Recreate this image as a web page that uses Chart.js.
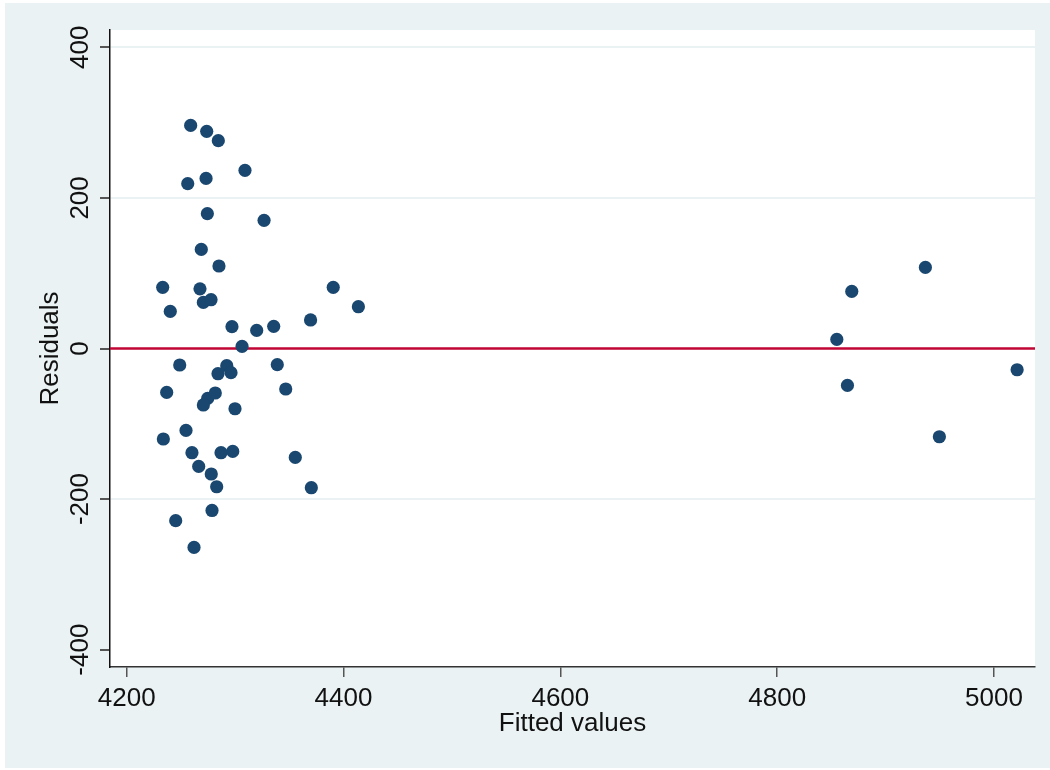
<!DOCTYPE html>
<html>
<head>
<meta charset="utf-8">
<script src="https://cdn.jsdelivr.net/npm/chart.js@4.4.1/dist/chart.umd.min.js"></script>
<style>
  body { margin: 0; background: #fff; }
</style>
</head>
<body>
<canvas id="residChart" width="1050" height="770"></canvas>
<script>
// fitted values (x) and residuals (y)
var fitted = [
    4259.0, 4273.8, 4284.5, 4256.3, 4273.2, 4309.1, 4274.4, 4326.7, 4268.8, 4285.1,
    4233.2, 4267.6, 4270.7, 4277.8, 4240.2, 4390.5, 4413.7, 4369.6, 4297.1, 4319.9,
    4335.6, 4306.4, 4248.9, 4292.3, 4296.2, 4338.9, 4236.9, 4284.2, 4274.7, 4270.7,
    4281.7, 4299.9, 4346.7, 4233.8, 4254.7, 4260.2, 4287.0, 4297.8, 4266.4, 4278.0,
    4283.0, 4355.5, 4370.3, 4278.7, 4245.2, 4262.1, 4855.0, 4868.8, 4936.7, 4864.8,
    4949.6, 5021.3
];
var residuals = [
    296.3, 288.4, 276.0, 218.9, 225.9, 236.6, 179.1, 170.2, 131.6, 109.6,
    81.2, 79.2, 61.2, 64.8, 49.3, 81.2, 55.5, 37.9, 29.0, 24.0,
    29.4, 2.8, -21.9, -22.8, -32.1, -21.5, -58.3, -33.5, -66.3, -75.0,
    -59.1, -80.0, -53.8, -120.2, -108.8, -138.4, -138.4, -136.7, -156.6, -166.7,
    -183.6, -144.7, -184.9, -215.1, -228.7, -264.2, 12.1, 75.8, 107.7, -49.0,
    -117.2, -28.2
];
var xTickValues = [4200, 4400, 4600, 4800, 5000];
var yTickValues = [-400, -200, 0, 200, 400];
var yGridValues = [-200, 200, 400];
var xRange = [4184.6, 5037.8];
var yRange = [-423, 423];
var refLine = 0;

var fontFamily = '"Liberation Sans", Arial, sans-serif';

var points = fitted.map(function (f, i) {
    return { x: f, y: residuals[i] };
});

// stata-like backgrounds: light outer region, white plot region
var backgroundPlugin = {
    id: 'stataBackground',
    beforeDraw: function (chart) {
        var ctx = chart.ctx;
        var a = chart.chartArea;
        ctx.save();
        ctx.fillStyle = '#ffffff';
        ctx.fillRect(0, 0, chart.width, chart.height);
        ctx.fillStyle = '#EAF2F3';
        ctx.fillRect(5, 3, chart.width - 5, chart.height - 5);
        ctx.fillStyle = '#ffffff';
        ctx.fillRect(a.left, a.top, a.right - a.left, a.bottom - a.top);
        ctx.restore();
    }
};

var ctx = document.getElementById('residChart').getContext('2d');
new Chart(ctx, {
    type: 'scatter',
    data: {
        datasets: [{
            label: 'Residuals',
            data: points,
            backgroundColor: '#1A476F',
            borderWidth: 0,
            pointRadius: 6.6,
            pointHoverRadius: 6.6
        }, {
            type: 'line',
            label: 'zero',
            data: [{ x: xRange[0], y: refLine }, { x: xRange[1], y: refLine }],
            borderColor: '#C10534',
            borderWidth: 2.5,
            pointRadius: 0,
            fill: false
        }]
    },
    options: {
        responsive: false,
        animation: false,
        layout: { padding: { left: 0, top: 30, right: 15, bottom: 0 } },
        plugins: {
            legend: { display: false },
            tooltip: { enabled: false }
        },
        scales: {
            x: {
                type: 'linear',
                min: xRange[0],
                max: xRange[1],
                afterBuildTicks: function (axis) {
                    axis.ticks = xTickValues.map(function (v) { return { value: v }; });
                },
                afterFit: function (axis) { axis.height = 103; },
                border: { display: true, color: '#333333', width: 1.5 },
                grid: {
                    drawOnChartArea: false,
                    tickLength: 10,
                    color: '#555555',
                    tickColor: '#555555',
                    lineWidth: 1.5
                },
                ticks: {
                    color: '#111111',
                    padding: 6,
                    maxRotation: 0,
                    font: { family: fontFamily, size: 26 },
                    callback: function (v) { return String(v); }
                },
                title: {
                    display: true,
                    text: 'Fitted values',
                    color: '#111111',
                    font: { family: fontFamily, size: 26 },
                    padding: { top: 0, bottom: 31 }
                }
            },
            y: {
                type: 'linear',
                min: yRange[0],
                max: yRange[1],
                afterBuildTicks: function (axis) {
                    axis.ticks = yTickValues.map(function (v) { return { value: v }; });
                },
                afterFit: function (axis) { axis.width = 110; },
                border: { display: true, color: '#111111', width: 1.5 },
                grid: {
                    tickLength: 10,
                    lineWidth: 2,
                    color: function (c) {
                        return (c.tick && yGridValues.indexOf(c.tick.value) >= 0) ? '#EAF2F3' : 'rgba(0,0,0,0)';
                    },
                    tickColor: '#555555'
                },
                ticks: {
                    color: '#111111',
                    padding: -7,
                    minRotation: 90,
                    maxRotation: 90,
                    crossAlign: 'center',
                    font: { family: fontFamily, size: 26 },
                    callback: function (v) { return String(v); }
                },
                title: {
                    display: true,
                    text: 'Residuals',
                    color: '#111111',
                    font: { family: fontFamily, size: 26 },
                    padding: { top: 35, bottom: 0 }
                }
            }
        }
    },
    plugins: [backgroundPlugin]
});
</script>
</body>
</html>
